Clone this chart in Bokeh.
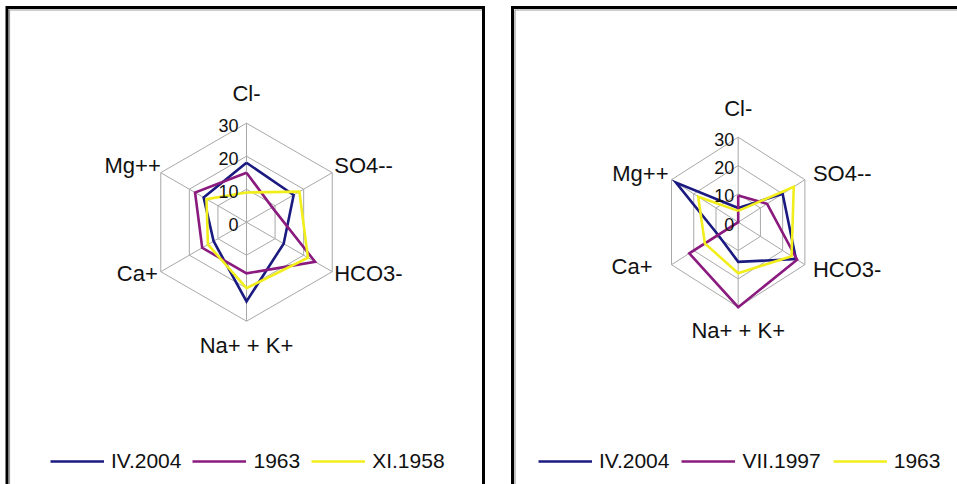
import numpy as np
from bokeh.plotting import figure
from bokeh.models import Legend, LegendItem
from bokeh.layouts import row
from bokeh.core.properties import value
from bokeh.embed import file_html
from bokeh.resources import INLINE

# ---------------- data ----------------
categories = ["Cl-", "SO4--", "HCO3-", "Na+ + K+", "Ca+", "Mg++"]
ticks = [0, 10, 20, 30]
rings = [10, 20, 30]

left_names = ["IV.2004", "1963", "XI.1958"]
left_iv2004 = [18, 16.5, 13, 24, 11.5, 15]
left_1963 = [15, 9, 24, 15.5, 15.5, 18]
left_xi1958 = [9, 18.5, 21.5, 20, 13.5, 14]

right_names = ["IV.2004", "VII.1997", "1963"]
right_iv2004 = [5, 20, 26, 14, 9, 28]
right_vii1997 = [9.4, 13, 26.5, 30, 22, 0]
right_1963 = [4, 25, 24, 18, 15, 18]

colors = ["#1a1a80", "#8a1a7e", "#f2ee1c"]
FONT = "Liberation Sans"
angles = np.deg2rad([90, 30, -30, -90, -150, 150])
ca, sa = np.cos(angles), np.sin(angles)


def closed(vals):
    v = np.asarray(vals, dtype=float)
    xs = list(v * ca) + [v[0] * ca[0]]
    ys = list(v * sa) + [v[0] * sa[0]]
    return xs, ys


def panel(width, height, xscale, yscale, cx, cy, series, names,
          label_offsets, tick_dx, legend_loc, legend_spacing,
          left_px, right_px, top_px):
    xr = (-cx / xscale, (width - cx) / xscale)
    yr = (-(height - cy) / yscale, cy / yscale)
    p = figure(width=width, height=height, x_range=xr, y_range=yr,
               output_backend="svg", toolbar_location=None,
               x_axis_location=None, y_axis_location=None, min_border=0)
    p.xgrid.grid_line_color = None
    p.ygrid.grid_line_color = None
    p.outline_line_color = None
    p.background_fill_color = "white"
    p.border_fill_color = "white"

    # frame helpers (screen px -> data)
    def xd(px):
        return xr[0] + px / xscale

    def yd(px):
        return yr[1] - px / yscale

    rmax = ticks[-1]
    # grid rings and spokes
    for t in rings:
        xs, ys = closed([t] * len(categories))
        p.line(xs, ys, line_color="#a8a8a8", line_width=1)
    p.segment(x0=[0] * 6, y0=[0] * 6, x1=list(rmax * ca), y1=list(rmax * sa),
              line_color="#a8a8a8", line_width=1)

    # series
    items = []
    for vals, name, col in zip(series, names, colors):
        xs, ys = closed(vals)
        r = p.line(xs, ys, line_color=col, line_width=2.6, line_join="miter")
        items.append(LegendItem(label=name, renderers=[r]))

    # tick labels
    p.text(x=[0] * len(ticks), y=ticks, text=[str(t) for t in ticks],
           text_align="right", text_baseline="middle", x_offset=tick_dx, y_offset=2,
           text_font=value(FONT), text_font_size="18px", text_color="#111111")

    # category labels
    aligns = ["center", "left", "left", "center", "right", "right"]
    for i, cat in enumerate(categories):
        dx, dy = label_offsets[i]
        p.text(x=[rmax * ca[i]], y=[rmax * sa[i]], text=[cat],
               text_align=aligns[i], text_baseline="middle",
               x_offset=dx, y_offset=dy,
               text_font=value(FONT), text_font_size="22px", text_color="#111111")

    leg = Legend(items=items, orientation="horizontal", location=legend_loc,
                 glyph_width=54, glyph_height=20, label_standoff=7,
                 spacing=legend_spacing, padding=0, margin=0,
                 border_line_color=None, background_fill_alpha=0,
                 label_text_font=FONT, label_text_font_size="21px",
                 label_text_color="#111111")
    p.add_layout(leg, "center")

    # chart-area frame: black line with a grey inner shade (bottom is cut off)
    far_bottom = yd(height + 20)
    if right_px is not None:
        bx = [xd(left_px), xd(left_px), xd(right_px), xd(right_px)]
        by = [far_bottom, yd(top_px), yd(top_px), far_bottom]
        gx = [xd(left_px + 2.5), xd(left_px + 2.5), xd(right_px - 1.5)]
    else:
        bx = [xd(left_px), xd(left_px), xd(width + 20)]
        by = [far_bottom, yd(top_px), yd(top_px)]
        gx = [xd(left_px + 2.5), xd(left_px + 2.5), xd(width + 20)]
    gy = [far_bottom, yd(top_px + 2.5), yd(top_px + 2.5)]
    p.line(gx, gy, line_color="#9a9a9a", line_width=1.2, line_join="miter")
    p.line(bx, by, line_color="black", line_width=3, line_join="miter")
    return p


H = 484
W1 = 497
W2 = 957 - W1
p1 = panel(W1, H, 99 / 30, 99 / 30, 246, 221.7,
           [left_iv2004, left_1963, left_xi1958], left_names,
           [(0, -30), (2, -7), (2, 2), (0, 24), (-3, 2), (0, -7)],
           -8, (50, 11), 11, 6.5, 483, 7)
p2 = panel(W2, H, 77 / 30, 85 / 30, 737.7 - W1, 221.7,
           [right_iv2004, right_vii1997, right_1963], right_names,
           [(0, -29), (8, -6), (8, 5), (0, 23), (-19, 2), (-3, -6)],
           -4, (538 - W1, 11), 12, 512 - W1, None, 7)

layout = row(p1, p2)
open("out.html", "w").write(file_html(layout, INLINE))
